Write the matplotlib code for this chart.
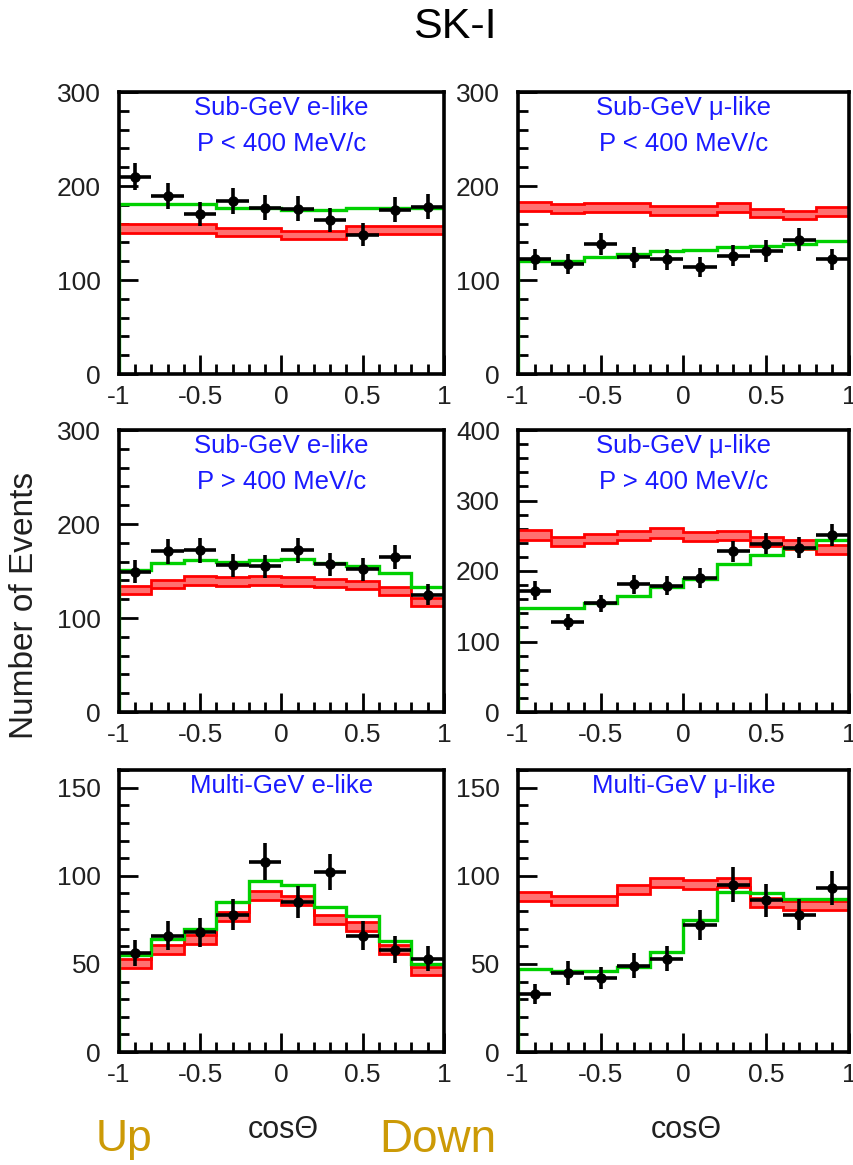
import numpy as np
import matplotlib
matplotlib.use("Agg")
import matplotlib.pyplot as plt
from matplotlib.ticker import MultipleLocator

plt.rcParams['font.family'] = ['Liberation Sans', 'DejaVu Sans']

# cos(zenith) binning, 10 bins from -1 (upward) to +1 (downward)
edges = np.linspace(-1, 1, 11)

titles = ["Sub-GeV e-like\nP < 400 MeV/c", "Sub-GeV \u03bc-like\nP < 400 MeV/c",
          "Sub-GeV e-like\nP > 400 MeV/c", "Sub-GeV \u03bc-like\nP > 400 MeV/c",
          "Multi-GeV e-like", "Multi-GeV \u03bc-like"]
ymax = [300, 300, 300, 400, 160, 160]
ymajor = [100, 100, 100, 100, 50, 50]
yminor = [20, 20, 20, 20, 10, 10]

# observed events
data_sg_e_lo = [210, 189, 170, 184, 177, 176, 164, 148, 175, 178]
data_sg_mu_lo = [122, 117, 138, 124, 122, 114, 126, 131, 143, 122]
data_sg_e_hi = [149, 171, 172, 156, 155, 172, 157, 152, 165, 125]
data_sg_mu_hi = [172, 128, 154, 181, 179, 190, 228, 239, 233, 251]
data_mg_e = [56, 66, 68, 78, 108, 85, 102, 66, 58, 53]
data_mg_mu = [33, 45, 42, 49, 53, 72, 95, 86, 78, 93]

# best-fit oscillation expectation (green)
osc_sg_e_lo = [181, 181, 181, 177, 177, 174, 174, 177, 177, 177]
osc_sg_mu_lo = [120, 120, 125, 128, 131, 132, 135, 136, 138, 142]
osc_sg_e_hi = [151, 158, 162, 160, 162, 163, 158, 155, 148, 133]
osc_sg_mu_hi = [148, 148, 154, 164, 178, 189, 210, 222, 233, 244]
osc_mg_e = [55, 64, 70, 85, 97, 95, 82, 77, 63, 50]
osc_mg_mu = [47, 46, 46, 48, 57, 75, 91, 90, 87, 87]

# no-oscillation expectation (red band)
noosc_sg_e_lo = [155, 155, 155, 151, 151, 148, 148, 153, 153, 153]
noosc_sg_mu_lo = [178, 176, 177, 177, 174, 174, 177, 171, 169, 173]
noosc_sg_e_hi = [130, 136, 140, 139, 140, 139, 137, 135, 129, 117]
noosc_sg_mu_hi = [251, 242, 246, 250, 254, 249, 250, 242, 238, 230]
noosc_mg_e = [50, 58, 64, 77, 89, 86, 75, 71, 58, 46]
noosc_mg_mu = [88, 86, 86, 92, 96, 95, 96, 85, 83, 83]
noosc_err = [4.5, 4.5, 4.5, 6.5, 2.5, 2.5]

data = [data_sg_e_lo, data_sg_mu_lo, data_sg_e_hi, data_sg_mu_hi, data_mg_e, data_mg_mu]
osc = [osc_sg_e_lo, osc_sg_mu_lo, osc_sg_e_hi, osc_sg_mu_hi, osc_mg_e, osc_mg_mu]
noosc = [noosc_sg_e_lo, noosc_sg_mu_lo, noosc_sg_e_hi, noosc_sg_mu_hi, noosc_mg_e, noosc_mg_mu]

fig = plt.figure(figsize=(8.54, 11.65), dpi=100)

W, H = 854.0, 1165.0
col_x = [(119, 325), (518, 331)]
row_y = [(92, 282), (430, 282), (770, 282)]

centers = 0.5 * (edges[:-1] + edges[1:])
halfw = 0.5 * (edges[1] - edges[0])

for i in range(6):
    r, c = divmod(i, 2)
    x0, w = col_x[c]
    y0, h = row_y[r]
    ax = fig.add_axes([x0 / W, 1 - (y0 + h) / H, w / W, h / H])

    red = np.array(noosc[i], dtype=float)
    err = noosc_err[i]
    ax.stairs(red + err, edges, baseline=red - err, fill=True, color='#ff7070', lw=0, zorder=2)
    ax.stairs(red + err, edges, baseline=None, color='#ff0000', lw=2, zorder=3)
    ax.stairs(red - err, edges, baseline=None, color='#ff0000', lw=2, zorder=3)

    ax.stairs(osc[i], edges, baseline=0, color='#00d000', lw=2.4, zorder=4)

    d = np.array(data[i], dtype=float)
    ax.errorbar(centers, d, xerr=halfw, yerr=np.sqrt(d), fmt='o', color='black',
                ms=6.5, elinewidth=2.6, capsize=0, zorder=5)

    ax.set_xlim(-1, 1)
    ax.set_ylim(0, ymax[i])
    ax.xaxis.set_major_locator(MultipleLocator(0.5))
    ax.xaxis.set_minor_locator(MultipleLocator(0.1))
    ax.yaxis.set_major_locator(MultipleLocator(ymajor[i]))
    ax.yaxis.set_minor_locator(MultipleLocator(yminor[i]))
    ax.set_xticks([-1, -0.5, 0, 0.5, 1])
    ax.set_xticklabels(['-1', '-0.5', '0', '0.5', '1'])
    ax.tick_params(which='both', direction='in', top=False, right=False, width=2,
                   labelsize=19, colors='black', labelcolor='#202020')
    ax.tick_params(axis='y', which='major', length=14, pad=13)
    ax.tick_params(axis='x', which='major', length=14, pad=8)
    ax.tick_params(which='minor', length=7)
    for sp in ax.spines.values():
        sp.set_linewidth(2.6)
        sp.set_zorder(10)

    ax.text(0.5, 0.985, titles[i], transform=ax.transAxes, ha='center', va='top',
            color='#1a1aff', fontsize=18.5, linespacing=1.6, zorder=6)

fig.text(455 / W, 1 - 27 / H, "SK-I", ha='center', va='center', fontsize=31)
fig.text(25 / W, 1 - 605 / H, "Number of Events", ha='center', va='center',
         rotation=90, fontsize=24, color='#202020')
fig.text(283 / W, 1 - 1130 / H, "cos\u0398", ha='center', va='center', fontsize=22, color='#202020')
fig.text(686 / W, 1 - 1130 / H, "cos\u0398", ha='center', va='center', fontsize=22, color='#202020')
fig.text(124 / W, 1 - 1140 / H, "Up", ha='center', va='center', fontsize=32, color='#cc9a06')
fig.text(438 / W, 1 - 1140 / H, "Down", ha='center', va='center', fontsize=33, color='#cc9a06')

fig.savefig("out.png", dpi=100)
